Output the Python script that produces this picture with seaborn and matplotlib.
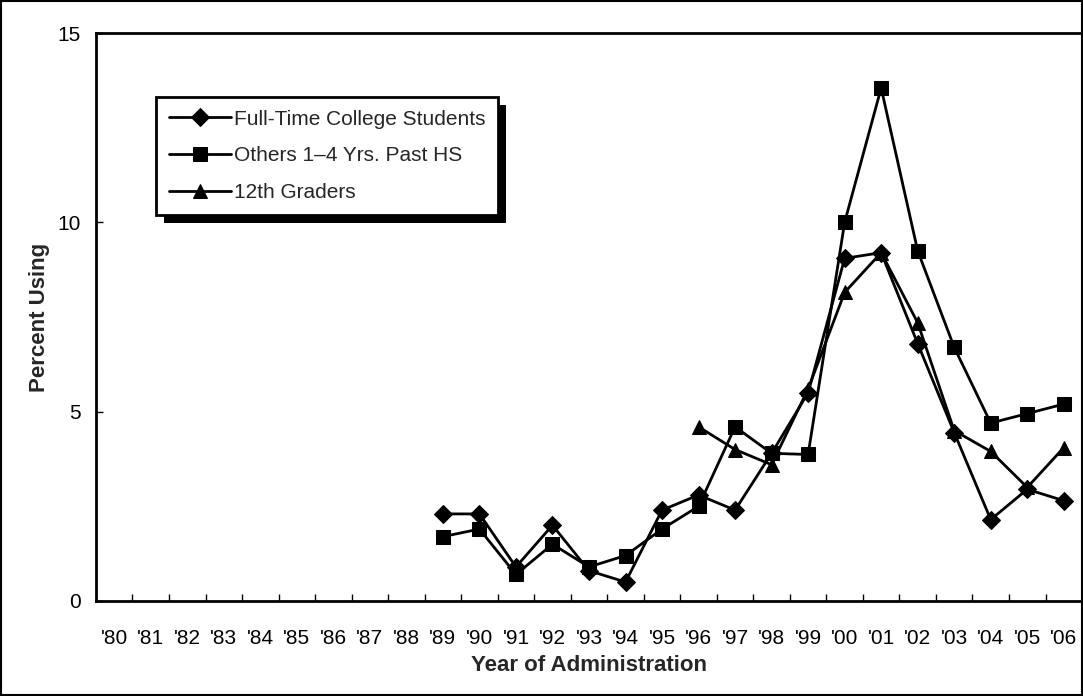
import numpy as np
import pandas as pd
import matplotlib
matplotlib.use("Agg")
import matplotlib.pyplot as plt
import matplotlib.patches as mpatches
from matplotlib.transforms import IdentityTransform
import seaborn as sns

# data
years = list(range(1980, 2007))
year_labels = ["'" + str(y)[2:] for y in years]

college = [np.nan] * 9 + [2.3, 2.3, 0.9, 2.0, 0.8, 0.5, 2.4, 2.8, 2.4, 3.9, 5.5,
                          9.05, 9.2, 6.8, 4.45, 2.15, 2.95, 2.65]
others = [np.nan] * 9 + [1.7, 1.9, 0.7, 1.5, 0.9, 1.2, 1.9, 2.5, 4.6, 3.9, 3.87,
                         10.0, 13.55, 9.25, 6.7, 4.7, 4.95, 5.2]
grade12 = [np.nan] * 16 + [4.6, 4.0, 3.6, 5.6, 8.15, 9.2, 7.35, 4.5, 3.95, 3.0, 4.05]

series_names = ["Full-Time College Students", "Others 1\u20134 Yrs. Past HS", "12th Graders"]

df = pd.DataFrame({"year": years,
                   series_names[0]: college,
                   series_names[1]: others,
                   series_names[2]: grade12})
long = df.melt(id_vars="year", var_name="group", value_name="pct").dropna()

sns.set_theme(style="white")
plt.rcParams['font.family'] = ['Liberation Sans', 'DejaVu Sans']

fig = plt.figure(figsize=(10.83, 6.96), dpi=100)
ax = fig.add_axes([0.0886, 0.1365, 0.9105, 0.816])

sns.lineplot(data=long, x="year", y="pct", style="group", style_order=series_names,
             markers={series_names[0]: "D", series_names[1]: "s", series_names[2]: "^"},
             dashes=False, color="black", linewidth=2, markersize=9.5,
             markeredgecolor="black", ax=ax)

ax.set_xlim(1979.5, 2006.5)
ax.set_ylim(0, 15)
ax.set_yticks([0, 5, 10, 15])
ax.set_xticks(years)
ax.set_xticklabels(year_labels)
ax.set_xticks(np.arange(1980.5, 2006, 1), minor=True)
ax.tick_params(axis="x", which="major", length=0, pad=20, labelsize=15, colors="black")
ax.tick_params(axis="x", which="minor", direction="in", length=5, width=1, color="black", bottom=True)
ax.tick_params(axis="y", direction="in", length=5, width=1, pad=11, labelsize=15,
               colors="black", left=True)

for s in ax.spines.values():
    s.set_color("black")
    s.set_linewidth(2)

ax.set_xlabel("Year of Administration", fontsize=16, fontweight="bold", labelpad=5)
ax.set_ylabel("Percent Using", fontsize=16, fontweight="bold", labelpad=5)

leg = ax.legend(loc="upper left", bbox_to_anchor=(0.061, 0.887), borderaxespad=0,
                fontsize=15, frameon=True, fancybox=False, edgecolor="black",
                framealpha=1, handlelength=3.0, handletextpad=0.15, labelspacing=0.85,
                borderpad=0.6)
leg.get_frame().set_linewidth(2)
leg.set_zorder(6)

# offset black shadow behind the legend box
fig.canvas.draw()
bb = leg.get_window_extent()
shadow = mpatches.Rectangle((bb.x0 + 8, bb.y0 - 8), bb.width, bb.height,
                            transform=IdentityTransform(), facecolor="black",
                            edgecolor="none", zorder=5.5, clip_on=False)
ax.add_artist(shadow)

# thin border around the whole figure
fig.add_artist(mpatches.Rectangle((0.001, 0.0015), 0.998, 0.997, transform=fig.transFigure,
                                  fill=False, edgecolor="black", linewidth=1.5))

fig.savefig("out.png", dpi=100)
